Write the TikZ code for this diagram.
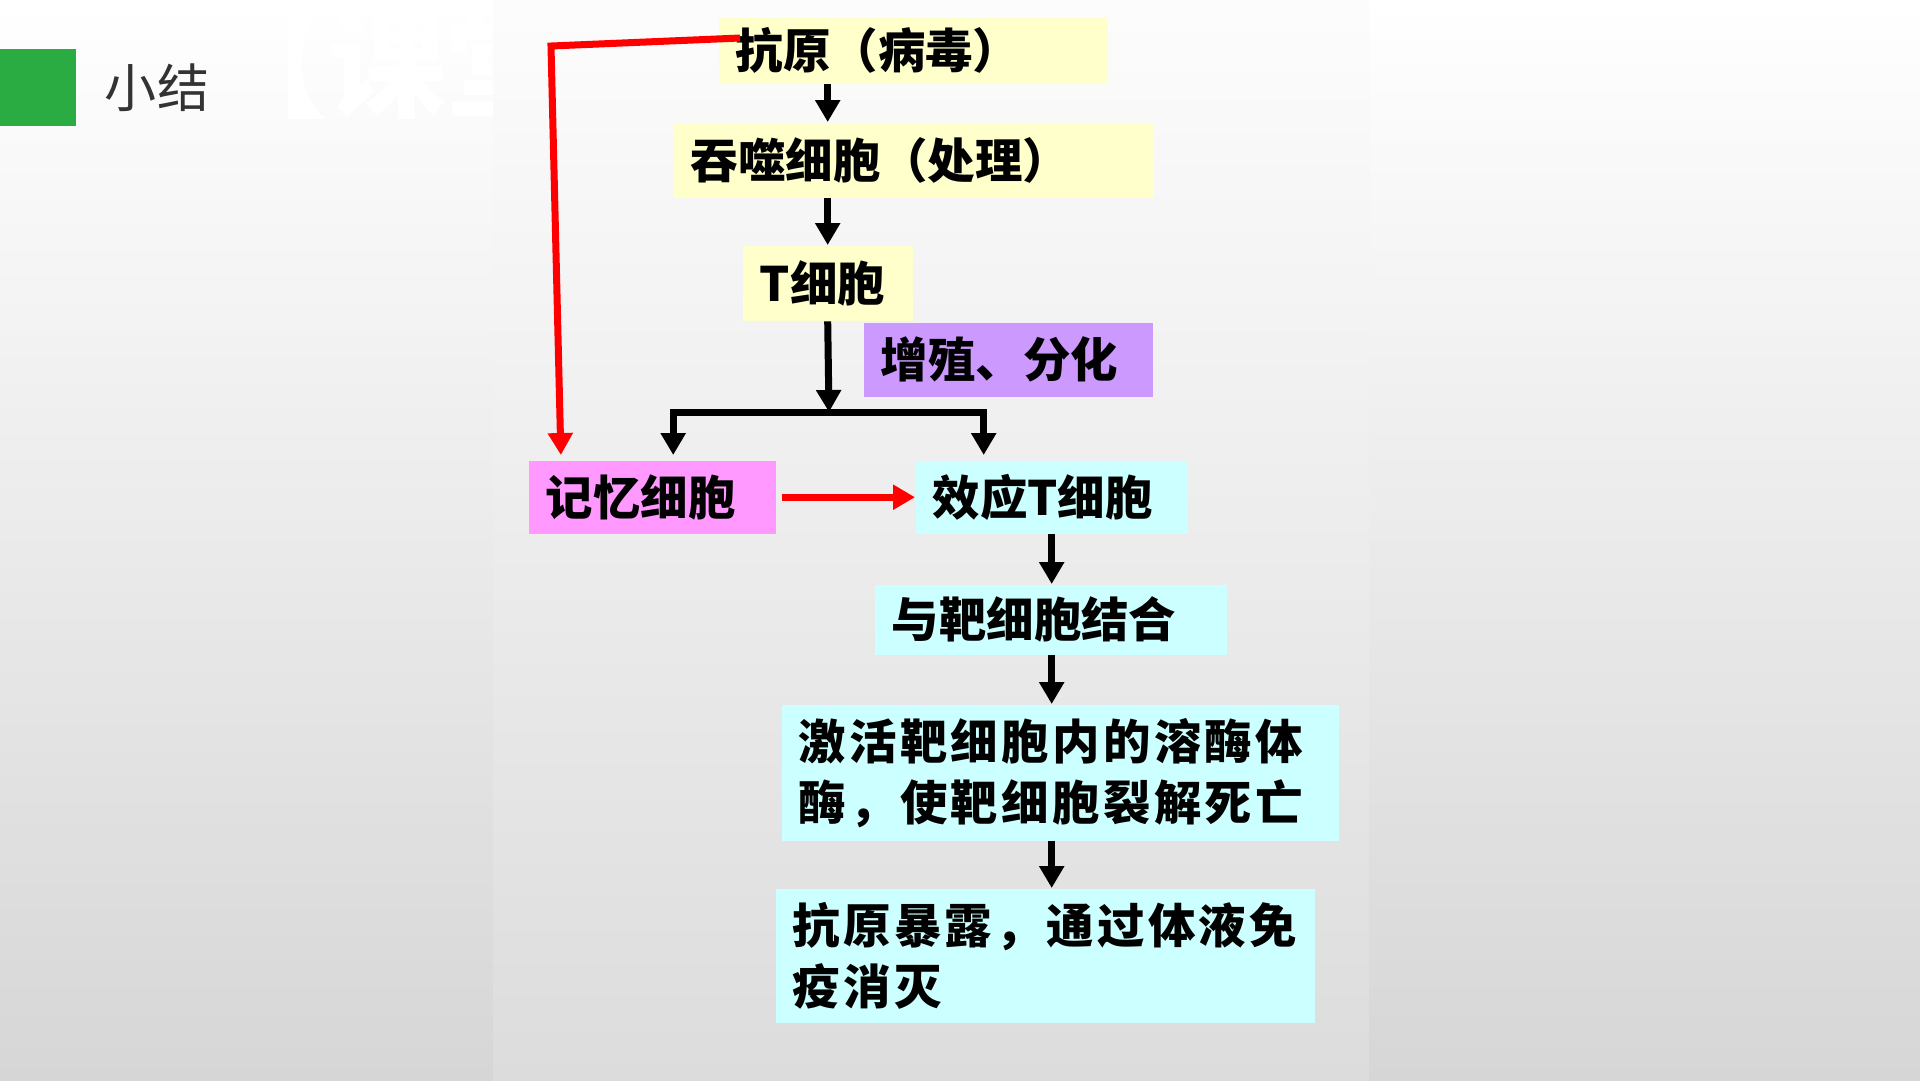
\documentclass[tikz,border=0pt]{standalone}
\usepackage{fontspec}
\usetikzlibrary{arrows.meta,calc,positioning}
\newfontfamily\cjk{Noto Sans CJK SC}
\newfontfamily\cjkwide{Noto Sans CJK SC}[LetterSpace=7]
\definecolor{BoxYellow}{RGB}{255,255,204}
\definecolor{BoxPurple}{RGB}{204,153,255}
\definecolor{BoxPink}{RGB}{255,153,255}
\definecolor{BoxCyan}{RGB}{204,255,255}
\definecolor{TagGreen}{RGB}{43,172,67}
\definecolor{SlideGray}{RGB}{214,214,214}
\definecolor{PanelGray}{RGB}{220,220,220}
\tikzset{
  box/.style={anchor=north west,inner xsep=1.7mm,inner ysep=0pt,align=left,
    font=\cjk\bfseries\fontsize{13.5}{17.4}\selectfont},
  widebox/.style={box,font=\cjkwide\bfseries\fontsize{13.5}{17.4}\selectfont},
  flow/.style={line width=.7mm,-{Triangle[width=2.4mm,length=2.2mm]},shorten >=.5mm},
  recall/.style={flow,red}
}
\begin{document}
\begin{tikzpicture}[x=.1mm,y=-.1mm]
  \useasboundingbox (0,0) rectangle (1920,1080);
  \shade[top color=white,bottom color=SlideGray] (0,0) rectangle (1920,1080);
  \fill[TagGreen] (0,49) rectangle (76,126);
  \node[anchor=center,inner sep=0pt,text=black!80,font=\cjk\fontsize{14.8}{16}\selectfont] (title) at (157,88) {小结};
  \node[anchor=west,inner sep=0pt,text=white,font=\cjk\bfseries\fontsize{33.6}{34}\selectfont] (mark) at (210,64) {【课堂};
  % pasted flow chart
  \shade[top color=black!1,bottom color=PanelGray] (493,0) rectangle (1369,1080);

  \node[box,fill=BoxYellow,text width=35.5mm,minimum height=6.7mm] (antigen) at (718,16) {抗原（病毒）};
  \node[box,fill=BoxYellow,text width=44.6mm,minimum height=7.5mm] (phago) at (673,122) {吞噬细胞（处理）};
  \node[box,fill=BoxYellow,text width=13.6mm,minimum height=7.5mm] (tcell) at (742,245) {T细胞};
  \node[box,fill=BoxPurple,text width=25.5mm,minimum height=7.4mm] (prolif) at (863,322) {增殖、分化};
  \node[box,fill=BoxPink,text width=21.3mm,minimum height=7.3mm] (memory) at (528,460) {记忆细胞};
  \node[box,fill=BoxCyan,text width=23.8mm,minimum height=7.3mm] (effector) at (915,460) {效应T细胞};
  \node[box,fill=BoxCyan,text width=31.8mm,minimum height=7mm] (bind) at (874,584) {与靶细胞结合};
  \node[widebox,fill=BoxCyan,text width=52.3mm,minimum height=13.6mm] (lyse) at (781,704) {激活靶细胞内的溶酶体\\酶，使靶细胞裂解死亡};
  \node[widebox,fill=BoxCyan,text width=50.5mm,minimum height=13.4mm] (expose) at (775,888) {抗原暴露，通过体液免\\疫消灭};

  \coordinate (split) at (829,412);
  \coordinate (hit) at (740,38);
  \coordinate (corner) at (551,46);

  \draw[flow,shorten >=0pt] (antigen.south -| tcell) -- (phago.north -| tcell);
  \draw[flow,shorten >=0pt] (phago.south -| tcell) -- (tcell.north);
  \draw[flow,shorten >=0pt] (tcell.south) -- (split);
  \draw[flow] (split) -| ([xshift=2.1mm]memory.north);
  \draw[flow] (split) -| ([xshift=-6.8mm]effector.north);
  \draw[flow,shorten >=0pt] (effector.south) -- (effector.south |- bind.north);
  \draw[flow,shorten >=0pt] (effector.south |- bind.south) -- (effector.south |- lyse.north);
  \draw[flow,shorten >=0pt] (effector.south |- lyse.south) -- (effector.south |- expose.north);

  \draw[recall] (hit) -- (corner) -- ([xshift=3.3mm]memory.north west);
  \draw[recall,shorten >=0pt] ([xshift=.6mm]memory.east) -- (effector.west);
\end{tikzpicture}
\end{document}
